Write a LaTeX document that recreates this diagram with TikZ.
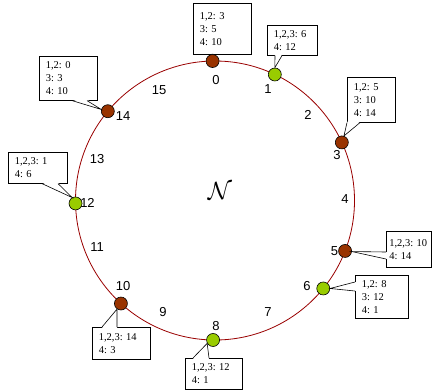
\documentclass[tikz,border=0pt]{standalone}
\usepackage{fontspec}
\setmainfont{Liberation Serif}
\newfontfamily\numfont{Liberation Sans}
\usetikzlibrary{shadows,calc}
\definecolor{ringred}{HTML}{990000}
\definecolor{nbrown}{HTML}{993300}
\definecolor{ngreen}{HTML}{99CC00}
\frenchspacing
\begin{document}
\begin{tikzpicture}[x=1pt,y=-1pt,
  ring/.style={draw=ringred, line width=0.8pt},
  nd/.style={circle, draw=black, line width=0.6pt, minimum size=13pt, inner sep=0pt},
  ndb/.style={nd, fill=nbrown},
  ndg/.style={nd, fill=ngreen},
  num/.style={font=\numfont\fontsize{13}{15}\selectfont, inner sep=0pt},
  cbox/.style={draw=black, line width=0.6pt, fill=white, anchor=north west,
    inner xsep=6.5pt, inner ysep=0pt, align=left,
    font=\frenchspacing\fontsize{10.5}{13}\selectfont,
    drop shadow={shadow xshift=1pt, shadow yshift=-1pt, opacity=0.35}},
  ptr/.style={draw=black, line width=0.6pt}
]
\useasboundingbox (0,0) rectangle (443,391);
\coordinate (c) at (215,200.5);
\draw[ring] (c) circle[radius=139.5pt];

% peers
\node[ndb] (n0)  at ($(c)+(91:139.5pt)$) {};
\node[ndg] (n1)  at ($(c)+(64.6:139.5pt)$) {};
\node[ndb] (n3)  at ($(c)+(24.6:139.5pt)$) {};
\node[ndb] (n5)  at ($(c)+(-21.2:139.5pt)$) {};
\node[ndg] (n6)  at ($(c)+(-39.1:139.5pt)$) {};
\node[ndg] (n8)  at ($(c)+(-90.8:139.5pt)$) {};
\node[ndb] (n10) at ($(c)+(227.6:139.5pt)$) {};
\node[ndg] (n12) at ($(c)+(181.2:139.5pt)$) {};
\node[ndb] (n14) at ($(c)+(140.2:139.5pt)$) {};

% position labels
\node[num] (l0)  at (216,80.5) {0};
\node[num] (l1)  at (268,89) {1};
\node[num] (l2)  at (308,115) {2};
\node[num] (l3)  at (337,155.5) {3};
\node[num] (l4)  at (345,199.5) {4};
\node[num] (l5)  at (334.5,251.5) {5};
\node[num] (l6)  at (307,286) {6};
\node[num] (l7)  at (268,312.5) {7};
\node[num] (l8)  at (216,326) {8};
\node[num] (l9)  at (163,312.5) {9};
\node[num] (l10) at (123,286) {10};
\node[num] (l11) at (97,247) {11};
\node[num] (l12) at (87.5,203) {12};
\node[num] (l13) at (97,159.5) {13};
\node[num] (l14) at (123,116) {14};
\node[num] (l15) at (159,90) {15};

\node (nn) at (220,191) {\fontsize{24}{28}\selectfont$\mathcal{N}$};

% callout boxes
\node[cbox, text width=45pt, minimum height=51pt] (b0) at (193,3) {1,2: 3\\3: 5\\4: 10};
\fill[white] ($(b0.south west)+(15,-1)$) -- (n0.north) -- ($(b0.south west)+(24,-1)$) -- cycle;
\draw[ptr] ($(b0.south west)+(15,0)$) -- (n0.north) -- ($(b0.south west)+(24,0)$);

\node[cbox, text width=37pt, minimum height=30pt] (b1) at (267,25) {1,2,3: 6\\4: 12};
\fill[white] ($(b1.south west)+(8,-1)$) -- (n1.north) -- ($(b1.south west)+(15,-1)$) -- cycle;
\draw[ptr] ($(b1.south west)+(8,0)$) -- (n1.north) -- ($(b1.south west)+(15,0)$);

\node[cbox, text width=35pt, minimum height=45pt] (b3) at (347,77) {1,2: 5\\3: 10\\4: 14};
\fill[white] ($(b3.south west)+(0.4,-1)$) -- (n3.72) -- ($(b3.south west)+(13,-1)$) -- cycle;
\draw[ptr] ($(b3.south west)+(0,0)$) -- (n3.72) -- ($(b3.south west)+(13,0)$);

\node[cbox, inner xsep=3pt, text width=38.5pt, minimum height=36pt] (b5) at (386,231) {1,2,3: 10\\4: 14};
\fill[white] ($(b5.north west)+(1,21)$) -- (n5.-5) -- ($(b5.north west)+(1,28)$) -- cycle;
\draw[ptr] ($(b5.north west)+(0,21)$) -- (n5.-5) -- ($(b5.north west)+(0,28)$);

\node[cbox, text width=40pt, minimum height=43pt] (b6) at (355,275) {1,2: 8\\3: 12\\4: 1};
\fill[white] ($(b6.north west)+(1,7)$) -- (n6.0) -- ($(b6.north west)+(1,16)$) -- cycle;
\draw[ptr] ($(b6.north west)+(0,7)$) -- (n6.0) -- ($(b6.north west)+(0,16)$);

\node[cbox, text width=44pt, minimum height=31pt] (b8) at (185,358) {1,2,3: 12\\4: 1};
\fill[white] ($(b8.north west)+(8,1)$) -- (n8.210) -- ($(b8.north west)+(24,1)$) -- cycle;
\draw[ptr] ($(b8.north west)+(8,0)$) -- (n8.210) -- ($(b8.north west)+(24,0)$);

\node[cbox, text width=45pt, minimum height=32pt] (b10) at (92,327) {1,2,3: 14\\4: 3};
\fill[white] ($(b10.north west)+(10,1)$) -- (n10.235) -- ($(b10.north west)+(25,1)$) -- cycle;
\draw[ptr] ($(b10.north west)+(10,0)$) -- (n10.235) -- ($(b10.north west)+(25,0)$);

\node[cbox, text width=46pt, minimum height=31pt] (b12) at (8,152) {1,2,3: 1\\4: 6};
\fill[white] ($(b12.south west)+(34,-1)$) -- (n12.120) -- ($(b12.south west)+(50,-1)$) -- cycle;
\draw[ptr] ($(b12.south west)+(34,0)$) -- (n12.120) -- ($(b12.south west)+(50,0)$);

\node[cbox, text width=45pt, minimum height=44pt] (b14) at (39,56) {1,2: 0\\3: 3\\4: 10};
\fill[white] ($(b14.south west)+(33,-1)$) -- (n14.165) -- ($(b14.south west)+(48,-1)$) -- cycle;
\draw[ptr] ($(b14.south west)+(33,0)$) -- (n14.165) -- ($(b14.south west)+(48,0)$);
\end{tikzpicture}
\end{document}
